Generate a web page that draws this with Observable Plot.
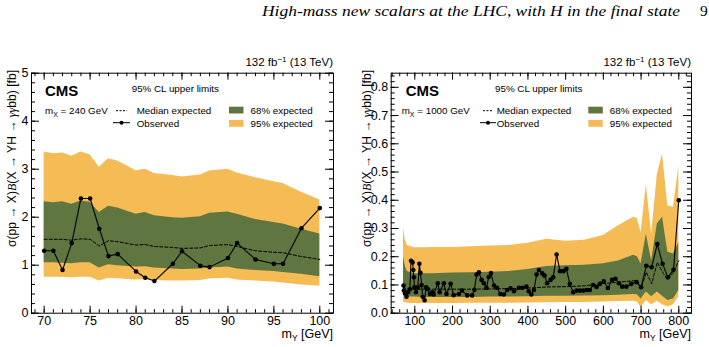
<!DOCTYPE html>
<html>
<head>
<meta charset="utf-8">
<script src="https://cdn.jsdelivr.net/npm/d3@7"></script>
<script src="https://cdn.jsdelivr.net/npm/@observablehq/plot@0.6"></script>
<style>
  body { margin: 0; background: #fff; }
  #wrap { position: relative; width: 709px; height: 347px; overflow: hidden; background: #fff; }
  #hdr { position: absolute; left: 0; top: 0; }
  .panel { position: absolute; top: 45px; }
</style>
</head>
<body>
<div id="wrap">
  <svg id="hdr" width="709" height="30"></svg>
  <div id="p1" class="panel" style="left:0px"></div>
  <div id="p2" class="panel" style="left:355px"></div>
</div>
<script>
// ---------------- header ----------------
const headerText = "High-mass new scalars at the LHC, with H in the final state";
const pageNumber = "9";

// ---------------- left panel: m_X = 240 GeV ----------------
const mY240   = [70,71,72,73,74,75,76,77,78,80,81,82,84,85,87,88,90,91,93,95,96,98,100];
const obs240  = [1.30,1.30,0.90,1.46,2.39,2.39,1.76,1.19,1.23,0.87,0.74,0.67,1.03,1.29,0.99,0.96,1.15,1.46,1.12,1.03,1.03,1.77,2.19];
const med240  = [1.54,1.54,1.54,1.52,1.55,1.54,1.40,1.51,1.49,1.42,1.43,1.39,1.37,1.35,1.36,1.41,1.43,1.39,1.30,1.27,1.26,1.18,1.12];
const lo68_240 = [1.05,1.05,1.04,1.03,1.05,1.05,0.94,1.01,0.99,0.96,0.97,0.94,0.92,0.91,0.92,0.94,0.96,0.92,0.89,0.87,0.85,0.81,0.76];
const hi68_240 = [2.32,2.30,2.32,2.27,2.34,2.31,2.10,2.23,2.19,2.06,2.10,2.03,1.99,1.98,2.01,2.08,2.11,2.06,1.95,1.89,1.86,1.75,1.65];
const lo95_240 = [0.75,0.75,0.75,0.74,0.75,0.75,0.67,0.73,0.72,0.69,0.70,0.68,0.67,0.67,0.68,0.71,0.73,0.69,0.67,0.65,0.63,0.59,0.56];
const hi95_240 = [3.36,3.32,3.34,3.27,3.36,3.30,3.04,3.22,3.17,2.97,3.00,2.91,2.87,2.84,2.88,2.96,3.00,2.92,2.82,2.74,2.70,2.52,2.36];
const xTicks240 = [70,75,80,85,90,95,100];
const yTicks240 = [0,1,2,3,4,5];

// ---------------- right panel: m_X = 1000 GeV ----------------
const mY1000obs = [70,71,74,78,82,87,90,94,96,97.5,99,103,108,112,115,118,121,126,130,134,140,146,150,161,166,177,184,195,203,217,225,239,252,258,264,270,277,283,290,296,302,310,318,327,336,345,354,363,376,385,396,402,409,416,423,429,438,444,451,460,467,476,485,494,502,511,520,529,538,547,556,564,573,582,591,601,612,623,632,641,650,661,674,688,700,714,728,743,757,771,786,800];
const obs1000   = [0.098,0.080,0.070,0.058,0.074,0.085,0.186,0.180,0.153,0.127,0.092,0.074,0.092,0.175,0.143,0.100,0.058,0.046,0.092,0.086,0.068,0.074,0.066,0.106,0.074,0.106,0.068,0.104,0.064,0.068,0.080,0.063,0.063,0.083,0.137,0.145,0.118,0.106,0.090,0.128,0.142,0.098,0.090,0.068,0.066,0.082,0.088,0.078,0.090,0.090,0.094,0.078,0.066,0.082,0.137,0.153,0.141,0.133,0.106,0.118,0.127,0.208,0.149,0.149,0.157,0.104,0.074,0.080,0.080,0.080,0.082,0.082,0.100,0.093,0.104,0.113,0.089,0.118,0.122,0.106,0.094,0.094,0.104,0.110,0.092,0.168,0.163,0.245,0.175,0.127,0.154,0.400];
const mY1000exp = [70,75,80,90,100,125,150,200,250,300,350,400,450,500,550,600,640,680,690,700,714,728,743,757,771,786,800];
const med1000   = [0.095,0.088,0.086,0.085,0.085,0.085,0.085,0.085,0.085,0.086,0.087,0.089,0.093,0.094,0.097,0.105,0.110,0.115,0.114,0.090,0.145,0.104,0.180,0.145,0.120,0.145,0.186];
const lo68_1000 = [0.065,0.060,0.058,0.057,0.057,0.056,0.056,0.056,0.056,0.057,0.057,0.058,0.060,0.060,0.061,0.062,0.064,0.066,0.065,0.050,0.075,0.058,0.075,0.060,0.045,0.050,0.080];
const hi68_1000 = [0.200,0.165,0.148,0.143,0.140,0.140,0.140,0.142,0.143,0.145,0.148,0.155,0.165,0.168,0.170,0.175,0.185,0.205,0.200,0.175,0.280,0.186,0.316,0.340,0.216,0.210,0.250];
const lo95_1000 = [0.040,0.037,0.035,0.034,0.034,0.034,0.034,0.034,0.035,0.035,0.035,0.036,0.037,0.038,0.038,0.040,0.041,0.042,0.040,0.020,0.045,0.030,0.042,0.030,0.022,0.030,0.057];
const hi95_1000 = [0.300,0.260,0.240,0.235,0.232,0.232,0.233,0.233,0.235,0.238,0.240,0.248,0.262,0.255,0.258,0.275,0.310,0.340,0.335,0.286,0.455,0.280,0.490,0.563,0.380,0.375,0.520];
const xTicks1000 = [100,200,300,400,500,600,700,800];
const yTicks1000 = [0,0.1,0.2,0.3,0.4,0.5,0.6,0.7,0.8];

// ---------------- shared text ----------------
const lumiText = "132 fb";
const cmsText = "CMS";
const clText = "95% CL upper limits";
const legendLabels = ["Median expected", "Observed", "68% expected", "95% expected"];
const COL68 = "#607641", COL95 = "#F5BB54";

// header
{
  const h = d3.select("#hdr");
  h.append("text").attr("x", 262).attr("y", 16)
    .attr("font-family", '"Liberation Serif","DejaVu Serif",serif').attr("font-style", "italic")
    .attr("font-size", 15.5).attr("textLength", 418).attr("lengthAdjust", "spacingAndGlyphs")
    .text(headerText);
  h.append("text").attr("x", 700).attr("y", 16)
    .attr("font-family", '"Liberation Serif","DejaVu Serif",serif').attr("font-size", 15.5)
    .text(pageNumber);
}

function drawPanel(el, cfg) {
  const W = cfg.width, H = 302, mt = 27.7, mb = 34.3;
  const fw = W - cfg.ml - cfg.mr, fh = H - mt - mb;
  const obs = cfg.obsX.map((x, i) => ({x, y: cfg.obsY[i]}));
  const band = cfg.bandX.map((x, i) => ({x, med: cfg.med[i], lo68: cfg.lo68[i], hi68: cfg.hi68[i], lo95: cfg.lo95[i], hi95: cfg.hi95[i]}));
  const [x0, x1] = cfg.xDomain, [y0, y1] = cfg.yDomain;
  const xMin = d3.range(cfg.xMinorStart, x1, cfg.xMinorStep).filter(v => v >= x0 && v <= x1);
  const yMin = d3.range(y0, y1 + 1e-9, cfg.yMinorStep).filter(v => v >= y0 && v <= y1);
  const TX = 7, tx = 3.5, TY = 8, ty = 4;
  const chart = Plot.plot({
    width: W, height: H, marginTop: mt, marginBottom: mb, marginLeft: cfg.ml, marginRight: cfg.mr,
    x: {domain: cfg.xDomain}, y: {domain: cfg.yDomain},
    style: {fontFamily: '"Liberation Sans", Arial, sans-serif', fontSize: "12px", color: "black", background: "white", overflow: "visible"},
    marks: [
      Plot.areaY(band, {x: "x", y1: "lo95", y2: "hi95", fill: COL95, clip: true}),
      Plot.areaY(band, {x: "x", y1: "lo68", y2: "hi68", fill: COL68, clip: true}),
      Plot.lineY(band, {x: "x", y: "med", stroke: "black", strokeWidth: 1, strokeDasharray: "3,2", clip: true}),
      Plot.lineY(obs, {x: "x", y: "y", stroke: "black", strokeWidth: 1.1}),
      Plot.dot(obs, {x: "x", y: "y", r: 2.3, fill: "black", stroke: null}),
      Plot.tickX(cfg.xMajor, {insetTop: fh - TX}),
      Plot.tickX(cfg.xMajor, {insetBottom: fh - TX}),
      Plot.tickX(xMin, {insetTop: fh - tx}),
      Plot.tickX(xMin, {insetBottom: fh - tx}),
      Plot.tickY(cfg.yMajor, {insetRight: fw - TY}),
      Plot.tickY(cfg.yMajor, {insetLeft: fw - TY}),
      Plot.tickY(yMin, {insetRight: fw - ty}),
      Plot.tickY(yMin, {insetLeft: fw - ty}),
      Plot.axisX({ticks: cfg.xMajor, tickSize: 0, tickPadding: 2.5, label: null, tickFormat: d => String(d), fontSize: 12.5}),
      Plot.axisY({ticks: cfg.yMajor, tickSize: 0, tickPadding: 3, label: null, tickFormat: cfg.yFmt, fontSize: 12.5}),
      Plot.frame({stroke: "black", strokeWidth: 1})
    ]
  });
  el.appendChild(chart);

  const s = d3.select(chart);
  const ff = '"Liberation Sans", Arial, sans-serif';
  const add = (x, y, html, attrs = {}) => {
    const t = s.append("text").attr("x", x).attr("y", y).attr("font-family", ff).attr("fill", "black").attr("text-anchor", "start");
    for (const k in attrs) t.attr(k, attrs[k]);
    t.node().innerHTML = html;
    return t;
  };
  const R = cfg.ml + fw;
  // luminosity
  add(R, 21, `${lumiText}<tspan dy="-4" font-size="8">−1</tspan><tspan dy="4"> (13 TeV)</tspan>`, {"text-anchor": "end", "font-size": 11.5});
  // x label
  add(R, 292.5, `m<tspan dy="3" font-size="8.5">Y</tspan><tspan dy="-3"> [GeV]</tspan>`, {"text-anchor": "end", "font-size": 12.5});
  // y label, sized so that it spans 177 px like the reference
  const yl = add(0, 0, `σ(pp → X)<tspan font-family="Liberation Serif" font-style="italic">B</tspan>(X → YH → <tspan font-family="Liberation Serif" font-style="italic">γγ</tspan>bb) [fb]`,
      {"text-anchor": "end", "font-size": 12, "transform": "translate(16,25) rotate(-90)"});
  const len = yl.node().getComputedTextLength();
  if (len > 0) yl.attr("font-size", Math.max(9, Math.min(13, 12 * 177 / len)));
  // legend
  const L = cfg.leg;
  add(L.cms, 50.5, cmsText, {"font-size": 15, "font-weight": "bold"});
  add(L.cl, 47, clText, {"font-size": 9.8});
  add(L.mx, 69, `m<tspan dy="2.5" font-size="7">X</tspan><tspan dy="-2.5"> = ${cfg.mX} GeV</tspan>`, {"font-size": 9.8});
  s.append("line").attr("x1", L.line[0]).attr("x2", L.line[1]).attr("y1", 65.7).attr("y2", 65.7).attr("stroke", "black").attr("stroke-dasharray", "2,1.5");
  add(L.txt, 69, legendLabels[0], {"font-size": 9.8});
  s.append("line").attr("x1", L.line[0] - 3).attr("x2", L.line[1] + 3).attr("y1", 77.7).attr("y2", 77.7).attr("stroke", "black");
  s.append("circle").attr("cx", (L.line[0] + L.line[1]) / 2).attr("cy", 77.7).attr("r", 2).attr("fill", "black");
  add(L.txt, 82, legendLabels[1], {"font-size": 9.8});
  s.append("rect").attr("x", L.box).attr("y", 61.7).attr("width", 14.5).attr("height", 6.8).attr("fill", COL68);
  add(L.box + 21.5, 69, legendLabels[2], {"font-size": 9.8});
  s.append("rect").attr("x", L.box).attr("y", 75).attr("width", 14.5).attr("height", 6.8).attr("fill", COL95);
  add(L.box + 21.5, 82, legendLabels[3], {"font-size": 9.8});
}

drawPanel(document.getElementById("p1"), {
  width: 350, ml: 31, mr: 17,
  obsX: mY240, obsY: obs240, bandX: mY240,
  med: med240, lo68: lo68_240, hi68: hi68_240, lo95: lo95_240, hi95: hi95_240,
  xDomain: [68.62, 101.49], yDomain: [0, 5],
  xMajor: xTicks240, xMinorStart: 69, xMinorStep: 1,
  yMajor: yTicks240, yMinorStep: 0.2, yFmt: d => String(d),
  mX: "240",
  leg: {cms: 45, cl: 131.7, mx: 45, line: [116, 127], txt: 136.7, box: 229}
});

drawPanel(document.getElementById("p2"), {
  width: 354, ml: 35.7, mr: 18,
  obsX: mY1000obs, obsY: obs1000, bandX: mY1000exp,
  med: med1000, lo68: lo68_1000, hi68: hi68_1000, lo95: lo95_1000, hi95: hi95_1000,
  xDomain: [37.4, 833.7], yDomain: [0, 0.85],
  xMajor: xTicks1000, xMinorStart: 40, xMinorStep: 20,
  yMajor: yTicks1000, yMinorStep: 0.02, yFmt: d3.format(".1f"),
  mX: "1000",
  leg: {cms: 50.7, cl: 140, mx: 46.7, line: [128, 138], txt: 141.7, box: 233.3}
});
</script>
</body>
</html>
